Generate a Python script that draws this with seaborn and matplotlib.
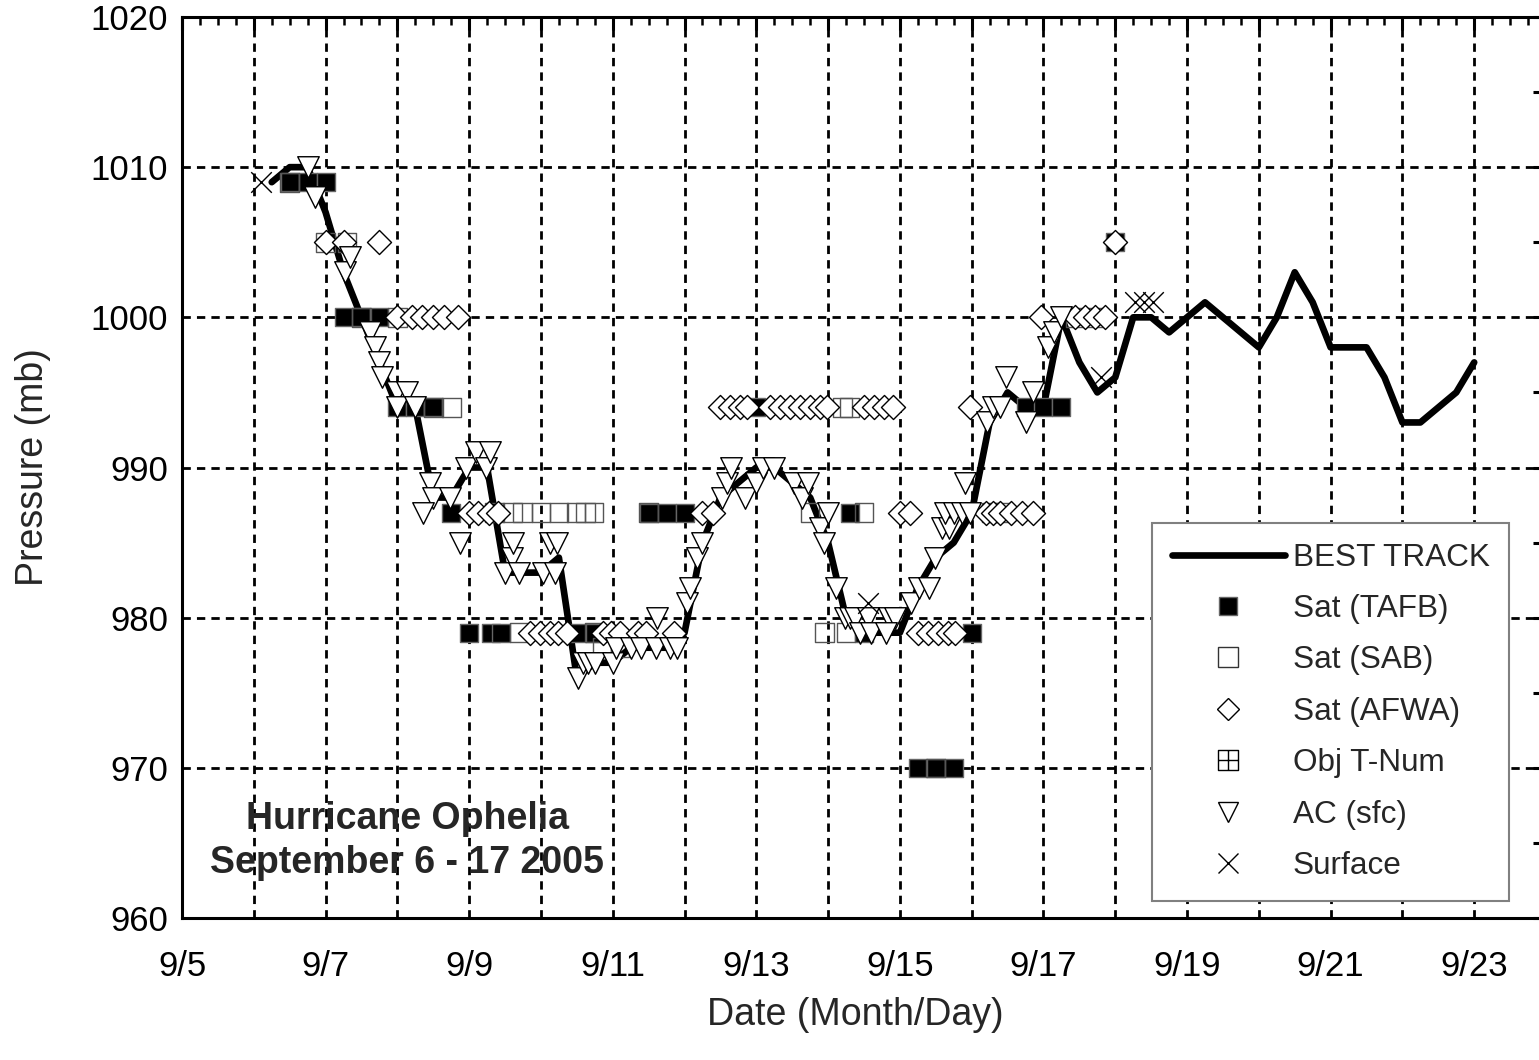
import matplotlib
matplotlib.use("Agg")
import matplotlib.pyplot as plt
from matplotlib.lines import Line2D
from matplotlib.path import Path
from matplotlib.ticker import MultipleLocator
import seaborn as sns

# ---------------- data (day of September, pressure in mb) ----------------
bt_day = [6.25, 6.5, 6.75, 7.0, 7.25, 7.5, 7.75, 8.0, 8.25, 8.5, 8.75, 9.0, 9.25, 9.5,
          9.75, 10.0, 10.25, 10.5, 10.75, 11.0, 11.25, 11.5, 11.75, 12.0, 12.25, 12.5,
          12.75, 13.0, 13.25, 13.5, 13.75, 14.0, 14.25, 14.5, 14.75, 15.0, 15.25, 15.5,
          15.75, 16.0, 16.25, 16.5, 16.75, 17.0, 17.25, 17.5, 17.75, 18.0, 18.25, 18.5,
          18.75, 19.0, 19.25, 19.5, 19.75, 20.0, 20.25, 20.5, 20.75, 21.0, 21.25, 21.5,
          21.75, 22.0, 22.25, 22.5, 22.75, 23.0]
bt_pres = [1009, 1010, 1010, 1007, 1003, 1000, 997, 994, 994, 988, 988, 990, 990, 983,
           983, 983, 984, 976, 977, 977, 978, 978, 978, 979, 985, 988,
           989, 990, 990, 989, 988, 985, 980, 979, 979, 979, 982, 984,
           985, 987, 993, 995, 994, 994, 1000, 997, 995, 996, 1000, 1000,
           999, 1000, 1001, 1000, 999, 998, 1000, 1003, 1001, 998, 998, 998,
           996, 993, 993, 994, 995, 997]

tafb_day = [6.5, 6.75, 7.0, 7.25, 7.5, 7.75, 8.0, 8.25, 8.5, 8.75, 9.0, 9.3, 9.45,
            10.5, 10.75, 11.5, 11.75, 12.0, 13.0, 14.3, 14.5, 15.25, 15.5, 15.75,
            16.0, 16.75, 17.0, 17.25, 18.0]
tafb_pres = [1009, 1009, 1009, 1000, 1000, 1000, 994, 994, 994, 987, 979, 979, 979,
             979, 979, 987, 987, 987, 994, 987, 979, 970, 970, 970,
             979, 994, 994, 994, 1005]

sab_day = [6.5, 7.0, 7.3, 7.5, 8.0, 8.5, 8.75, 9.35, 9.6, 9.74, 10.0, 10.25, 10.49,
           10.62, 10.74, 9.7, 10.75, 10.85, 11.1, 11.5, 13.75, 14.5, 13.95, 14.25,
           14.2, 14.3, 15.5, 16.28, 16.42, 17.45, 17.7]
sab_pres = [1009, 1005, 1005, 1000, 1000, 994, 994, 987, 987, 987, 987, 987, 987,
            987, 987, 979, 979, 978, 978, 987, 987, 987, 979, 979,
            994, 994, 970, 987, 987, 1000, 1000]

afwa_day = [7.0, 7.25, 7.75, 8.0, 8.2, 8.35, 8.5, 8.65, 8.85, 9.0, 9.13, 9.27, 9.4,
            9.85, 9.99, 10.13, 10.24, 10.36, 10.86, 10.98, 11.1, 11.35, 11.47, 11.85,
            12.25, 12.4, 12.49, 12.63, 12.77, 12.87, 13.19, 13.33, 13.47, 13.61, 13.75,
            13.89, 13.98, 14.5, 14.64, 14.78, 14.9, 15.0, 15.14, 15.25, 15.39, 15.53,
            15.67, 15.77, 15.97, 16.2, 16.3, 16.4, 16.55, 16.7, 16.85, 16.97, 17.44,
            17.58, 17.72, 17.86, 18.0]
afwa_pres = [1005, 1005, 1005, 1000, 1000, 1000, 1000, 1000, 1000, 987, 987, 987, 987,
             979, 979, 979, 979, 979, 979, 979, 979, 979, 979, 979,
             987, 987, 994, 994, 994, 994, 994, 994, 994, 994, 994,
             994, 994, 994, 994, 994, 994, 987, 987, 979, 979, 979,
             979, 979, 994, 987, 987, 987, 987, 987, 987, 1000, 1000,
             1000, 1000, 1000, 1005]

ac_day = [6.75, 6.85, 7.27, 7.34, 7.62, 7.69, 7.75, 7.78, 8.0, 8.13, 8.0, 8.25,
          8.45, 8.5, 8.73, 8.36, 8.87, 8.96, 9.1, 9.24, 9.29, 9.5, 9.59, 9.61, 9.7,
          10.03, 10.13, 10.2, 10.22, 10.52, 10.59, 10.65, 10.75, 11.0, 11.05, 11.25,
          11.4, 11.6, 11.8, 11.9, 11.61, 12.03, 12.08, 12.17, 12.24, 12.52, 12.59,
          12.65, 12.84, 13.0, 13.1, 13.24, 13.52, 13.63, 13.72, 13.89, 13.94, 14.0,
          14.11, 14.23, 14.3, 14.37, 14.55, 14.85, 14.93, 14.45, 14.6, 14.8, 15.16,
          15.26, 15.4, 15.49, 15.58, 15.68, 15.63, 15.75, 15.87, 15.97, 15.9, 16.22,
          16.3, 16.39, 16.48, 16.76, 16.86, 17.07, 17.14, 17.25]
ac_pres = [1010, 1008, 1003, 1004, 999, 998, 997, 996, 995, 995, 994, 994,
           989, 988, 988, 987, 985, 990, 991, 990, 991, 983, 984, 985, 983,
           983, 985, 983, 985, 976, 977, 977, 977, 977, 978, 978,
           978, 978, 978, 978, 980, 981, 982, 984, 985, 988, 989,
           990, 988, 989, 990, 990, 989, 988, 989, 986, 985, 987,
           982, 980, 980, 980, 980, 980, 980, 979, 979, 979, 981,
           982, 982, 984, 986, 986, 987, 987, 987, 987, 989, 993,
           994, 994, 996, 993, 995, 998, 999, 1000]

sfc_day = [6.1, 14.55, 17.8, 18.27, 18.4, 18.52]
sfc_pres = [1009, 981, 996, 1001, 1001, 1001]

xtick_days = [5, 7, 9, 11, 13, 15, 17, 19, 21, 23]
xtick_labels = ["9/5", "9/7", "9/9", "9/11", "9/13", "9/15", "9/17", "9/19", "9/21", "9/23"]
ytick_values = [960, 970, 980, 990, 1000, 1010, 1020]

legend_labels = ["BEST TRACK", "Sat (TAFB)", "Sat (SAB)", "Sat (AFWA)",
                 "Obj T-Num", "AC (sfc)", "Surface"]

# ---------------- style ----------------
sns.set_theme(style="white")
plt.rcParams["font.family"] = ["Liberation Sans", "DejaVu Sans"]
plt.rcParams["axes.unicode_minus"] = False

FS_TICK = 25
FS_LAB = 27
W, H = 1539, 1060
fig = plt.figure(figsize=(W / 100, H / 100), dpi=100)
ax_left, ax_right, ax_top, ax_bot = 182, 1546, 17, 918
ax = fig.add_axes([ax_left / W, 1 - ax_bot / H, (ax_right - ax_left) / W, (ax_bot - ax_top) / H])

# best track
sns.lineplot(x=bt_day, y=bt_pres, ax=ax, color="black", linewidth=4.8,
             sort=False, estimator=None, zorder=3)

sns.scatterplot(x=tafb_day, y=tafb_pres, ax=ax, marker="s", s=180, color="black",
                edgecolor="#666666", linewidth=1.0, zorder=4)
sns.scatterplot(x=sab_day, y=sab_pres, ax=ax, marker="s", s=180, color="#555555",
                facecolor="none", edgecolor="#555555", linewidth=1.0, zorder=5)
sns.scatterplot(x=afwa_day, y=afwa_pres, ax=ax, marker="D", s=150, color="white",
                edgecolor="black", linewidth=1.0, zorder=6)
sns.scatterplot(x=ac_day, y=ac_pres, ax=ax, marker="v", s=240, color="white",
                edgecolor="black", linewidth=1.0, zorder=7)
sns.scatterplot(x=sfc_day, y=sfc_pres, ax=ax, marker="x", s=220, color="black",
                linewidth=1.0, zorder=8)

ax.set_xlim(5, 24)
ax.set_ylim(960, 1020)

all_days = list(range(5, 25))
ax.set_xticks(all_days)
lab_map = dict(zip(xtick_days, xtick_labels))
ax.set_xticklabels([lab_map.get(d, "") for d in all_days])
ax.xaxis.set_minor_locator(MultipleLocator(0.25))
ax.set_yticks(ytick_values)
ax.set_yticklabels([str(v) for v in ytick_values])
ax.yaxis.set_minor_locator(MultipleLocator(5))

ax.grid(True, which="major", color="black", linestyle=(0, (3.0, 2.2)), linewidth=2.0)
ax.set_axisbelow(True)

for sp in ax.spines.values():
    sp.set_linewidth(2.2)
    sp.set_color("black")

ax.tick_params(which="both", direction="in", top=True, right=True, colors="black",
               labelsize=FS_TICK)
ax.tick_params(axis="x", which="major", length=9, width=2.2, pad=23)
ax.tick_params(axis="x", which="minor", length=6, width=1.8)
ax.tick_params(axis="y", which="both", length=9.5, width=2.2, pad=10)

ax.set_xlabel("Date (Month/Day)", fontsize=FS_LAB)
ax.set_ylabel("Pressure (mb)", fontsize=FS_LAB)
ax.xaxis.set_label_coords((855 - ax_left) / (ax_right - ax_left), (ax_bot - 1015) / (ax_bot - ax_top))
ax.xaxis.label.set_va("center")
ax.yaxis.set_label_coords((33 - ax_left) / (ax_right - ax_left), 0.5)
ax.yaxis.label.set_va("center")

fig.text(407 / W, 1 - 841 / H, "Hurricane Ophelia\nSeptember 6 - 17 2005",
         ha="center", va="center", fontsize=27, fontweight="bold", linespacing=1.3)

# legend
boxplus = Path([(-1, -1), (1, -1), (1, 1), (-1, 1), (-1, -1),
                (0, -1), (0, 1), (-1, 0), (1, 0)],
               [Path.MOVETO, Path.LINETO, Path.LINETO, Path.LINETO, Path.CLOSEPOLY,
                Path.MOVETO, Path.LINETO, Path.MOVETO, Path.LINETO])
handles = [
    Line2D([], [], color="black", linewidth=4.8),
    Line2D([], [], ls="none", marker="s", markersize=13, markerfacecolor="black",
           markeredgecolor="#666666", markeredgewidth=1.0),
    Line2D([], [], ls="none", marker="s", markersize=14, markerfacecolor="none",
           markeredgecolor="#333333", markeredgewidth=1.0),
    Line2D([], [], ls="none", marker="D", markersize=11, markerfacecolor="white",
           markeredgecolor="black", markeredgewidth=1.0),
    Line2D([], [], ls="none", marker=boxplus, markersize=14, markerfacecolor="none",
           markeredgecolor="black", markeredgewidth=1.0),
    Line2D([], [], ls="none", marker="v", markersize=15, markerfacecolor="white",
           markeredgecolor="black", markeredgewidth=1.0),
    Line2D([], [], ls="none", marker="x", markersize=15, color="black",
           markeredgewidth=1.0),
]
leg = ax.legend(handles, legend_labels, loc="upper left",
                bbox_to_anchor=(1152 / W, 1 - 523 / H), bbox_transform=fig.transFigure,
                fontsize=22.7, frameon=True, fancybox=False, framealpha=1,
                edgecolor="#808080", handlelength=3.6, handletextpad=0.25,
                labelspacing=0.68, borderpad=0.62, borderaxespad=0)
leg.get_frame().set_linewidth(1.5)
leg.set_zorder(20)

fig.savefig("out.png", dpi=100)
